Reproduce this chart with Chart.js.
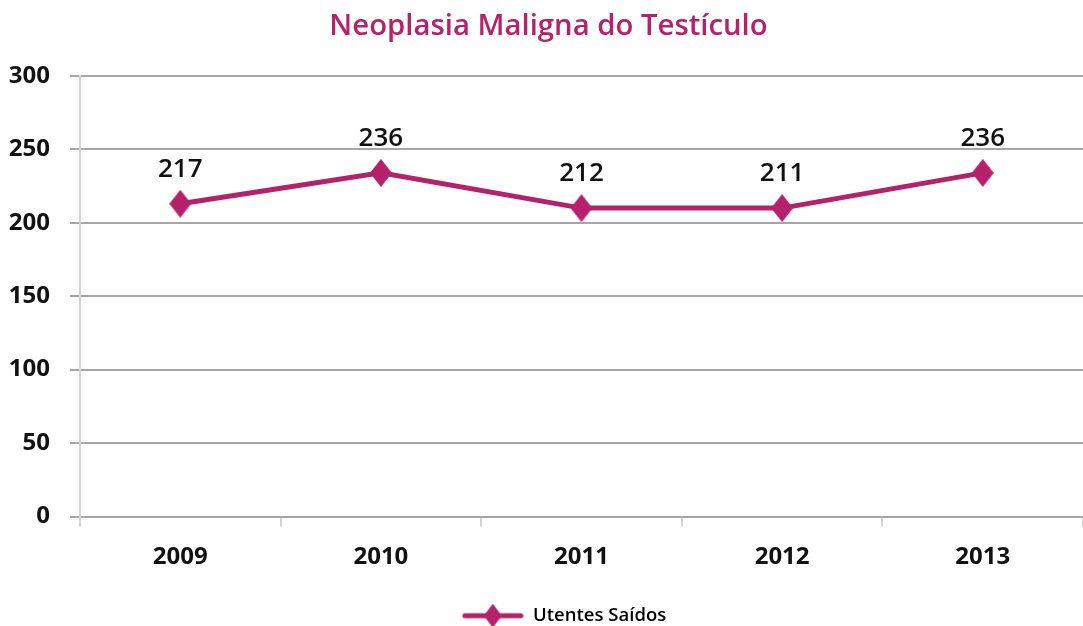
<!DOCTYPE html>
<html>
<head>
<meta charset="utf-8">
<script src="https://cdn.jsdelivr.net/npm/chart.js@4/dist/chart.umd.min.js"></script>
<style>
  html, body { margin: 0; padding: 0; background: #fff; }
  #wrap { width: 1083px; height: 626px; }
</style>
</head>
<body>
<div id="wrap"><canvas id="chart" width="1083" height="626"></canvas></div>
<script>
const years = ['2009', '2010', '2011', '2012', '2013'];
const utentesSaidos = [213, 234, 210, 210, 234];
const pointLabels = ['217', '236', '212', '211', '236'];
const yTicks = [0, 50, 100, 150, 200, 250, 300];

const magenta = '#b5216b';
const font = "'Open Sans', 'Noto Sans', sans-serif";

// tall diamond marker
function makeDiamond(w, h) {
  const c = document.createElement('canvas');
  c.width = w; c.height = h;
  const g = c.getContext('2d');
  g.fillStyle = magenta;
  g.beginPath();
  g.moveTo(w / 2, 0);
  g.lineTo(w, h / 2);
  g.lineTo(w / 2, h);
  g.lineTo(0, h / 2);
  g.closePath();
  g.fill();
  return c;
}
const diamond = makeDiamond(22, 28);

// legend marker: line with diamond, blank space on the left pushes the item right
const legendShift = 45;
function makeLegendMark() {
  const c = document.createElement('canvas');
  c.width = 62 + legendShift; c.height = 24;
  const g = c.getContext('2d');
  g.strokeStyle = magenta;
  g.lineWidth = 5;
  g.lineCap = 'round';
  g.beginPath();
  g.moveTo(legendShift + 3, 12);
  g.lineTo(legendShift + 59, 12);
  g.stroke();
  g.drawImage(makeDiamond(18, 24), legendShift + 22, 0);
  return c;
}
const legendMark = makeLegendMark();

const valueLabels = {
  id: 'valueLabels',
  afterDatasetsDraw(chart) {
    const ctx = chart.ctx;
    const meta = chart.getDatasetMeta(0);
    ctx.save();
    ctx.font = `600 26px ${font}`;
    ctx.fillStyle = '#111';
    ctx.textAlign = 'center';
    ctx.textBaseline = 'alphabetic';
    meta.data.forEach((pt, i) => {
      ctx.fillText(pointLabels[i], pt.x, pt.y - 27);
    });
    ctx.restore();
  }
};

// title sits a little right of centre in the original
const titleNudge = {
  id: 'titleNudge',
  afterLayout(chart) {
    if (chart.titleBlock) chart.titleBlock.left += 14;
  }
};

new Chart(document.getElementById('chart'), {
  type: 'line',
  data: {
    labels: years,
    datasets: [{
      label: 'Utentes Saídos',
      data: utentesSaidos,
      borderColor: magenta,
      backgroundColor: magenta,
      borderWidth: 5,
      tension: 0,
      pointStyle: diamond,
      pointRadius: 12,
      pointHoverRadius: 12
    }]
  },
  options: {
    responsive: false,
    animation: false,
    layout: { autoPadding: false, padding: { left: 0, right: 0, top: 0, bottom: -9 } },
    plugins: {
      title: {
        display: true,
        text: 'Neoplasia Maligna do Testículo',
        color: magenta,
        font: { family: font, size: 29.3, weight: '600' },
        padding: { top: 9.3, bottom: 31.5 }
      },
      legend: {
        position: 'bottom',
        labels: {
          usePointStyle: true,
          pointStyleWidth: 62 + legendShift,
          boxWidth: 62 + legendShift,
          generateLabels: chart => [{
            text: chart.data.datasets[0].label,
            pointStyle: legendMark,
            fillStyle: magenta,
            strokeStyle: magenta,
            lineWidth: 0,
            hidden: false,
            datasetIndex: 0
          }],
          color: '#111',
          font: { family: font, size: 18.5, weight: '600' },
          padding: 3
        }
      },
      tooltip: { enabled: false }
    },
    scales: {
      x: {
        offset: true,
        afterFit: scale => {
          scale.height = 87;
          scale.paddingLeft = 0;
          scale.paddingRight = 0;
        },
        grid: {
          offset: true,
          drawOnChartArea: false,
          color: '#d4d4d4',
          lineWidth: 2,
          tickLength: 10
        },
        border: { color: '#a6a6a6', width: 2 },
        ticks: {
          color: '#111',
          font: { family: font, size: 24, weight: '700' },
          padding: 16,
          maxRotation: 0
        }
      },
      y: {
        min: 0,
        max: 300,
        afterBuildTicks: scale => { scale.ticks = yTicks.map(v => ({ value: v })); },
        afterFit: scale => { scale.width = 80; },
        grid: {
          color: '#a6a6a6',
          lineWidth: 2,
          tickLength: 10
        },
        border: { color: '#d4d4d4', width: 2 },
        ticks: {
          color: '#111',
          font: { family: font, size: 24, weight: '700' },
          padding: 20
        }
      }
    }
  },
  plugins: [valueLabels, titleNudge]
});
</script>
</body>
</html>
